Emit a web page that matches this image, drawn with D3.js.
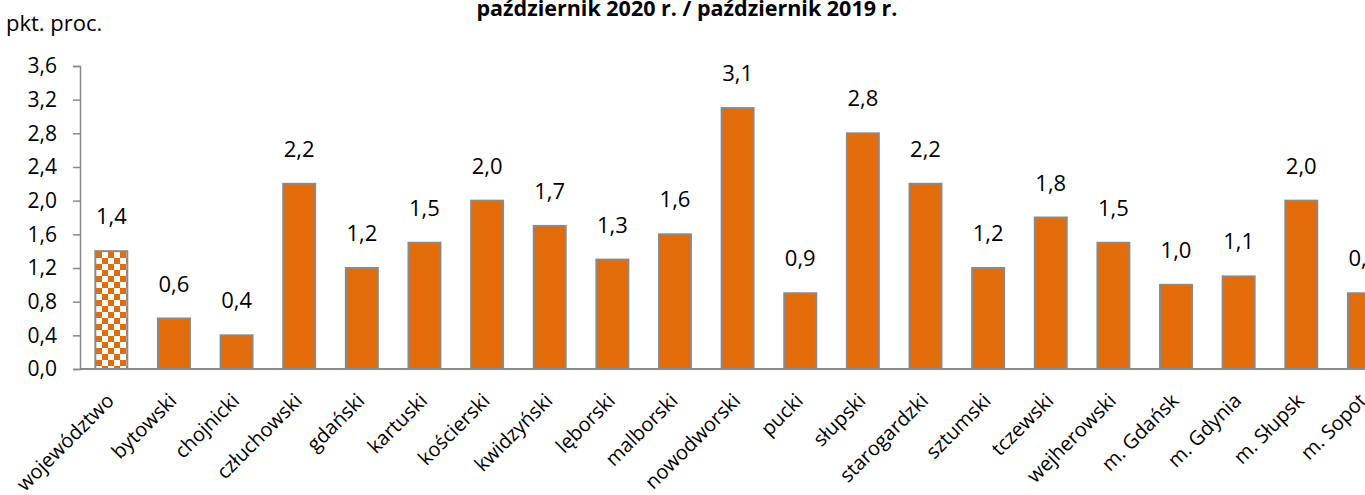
<!DOCTYPE html>
<html>
<head>
<meta charset="utf-8">
<script src="https://cdn.jsdelivr.net/npm/d3@7"></script>
<style>
  body { margin: 0; background: #fff; }
  svg { font-family: "Open Sans", "Noto Sans", sans-serif; }
  .axis path, .axis line { stroke: #898989; stroke-width: 1.5px; }
  .axis text { fill: #000; font-size: 21px; font-family: "Open Sans", sans-serif; }
</style>
</head>
<body>
<div id="chart"></div>
<script>
// data
var categories = ["województwo", "bytowski", "chojnicki", "człuchowski", "gdański", "kartuski",
  "kościerski", "kwidzyński", "lęborski", "malborski", "nowodworski", "pucki", "słupski",
  "starogardzki", "sztumski", "tczewski", "wejherowski", "m. Gdańsk", "m. Gdynia", "m. Słupsk", "m. Sopot"];
var values = [1.4, 0.6, 0.4, 2.2, 1.2, 1.5, 2.0, 1.7, 1.3, 1.6, 3.1, 0.9, 2.8, 2.2, 1.2, 1.8, 1.5, 1.0, 1.1, 2.0, 0.9];
var yTicks = [0, 0.4, 0.8, 1.2, 1.6, 2.0, 2.4, 2.8, 3.2, 3.6];

var svgWidth = 1365;
var svgHeight = 495;

var svg = d3.select("#chart")
  .append("svg")
  .attr("width", svgWidth)
  .attr("height", svgHeight);

// checkered fill for the voivodeship bar
var pat = svg.append("defs").append("pattern")
  .attr("id", "checks")
  .attr("patternUnits", "userSpaceOnUse")
  .attr("width", 12)
  .attr("height", 12);
pat.append("rect").attr("width", 12).attr("height", 12).attr("fill", "#fff");
pat.append("rect").attr("width", 6).attr("height", 6).attr("fill", "#E36C0A");
pat.append("rect").attr("x", 6).attr("y", 6).attr("width", 6).attr("height", 6).attr("fill", "#E36C0A");

// scales (the chart runs past the right edge, like the original)
var xScale = d3.scaleBand()
  .domain(categories)
  .range([80, 80 + categories.length * 62.63])
  .paddingInner(0.49)
  .paddingOuter(0.245);

var yScale = d3.scaleLinear()
  .domain([0, 3.6])
  .range([369, 66]);

var fmt = function(d) { return d3.format(".1f")(d).replace(".", ","); };

// y axis
svg.append("g")
  .attr("class", "axis")
  .attr("transform", "translate(80,0)")
  .call(d3.axisLeft(yScale).tickValues(yTicks).tickSize(7).tickSizeOuter(7).tickPadding(16).tickFormat(fmt));

// bars
svg.selectAll(".bar")
  .data(values)
  .enter()
  .append("rect")
  .attr("class", "bar")
  .attr("x", (d, i) => xScale(categories[i]))
  .attr("y", d => yScale(d))
  .attr("width", xScale.bandwidth())
  .attr("height", d => yScale(0) - yScale(d))
  .attr("fill", (d, i) => i === 0 ? "url(#checks)" : "#E36C0A")
  .attr("stroke", "#898989")
  .attr("stroke-width", 2);

// x axis line
svg.append("line")
  .attr("x1", 80).attr("x2", svgWidth)
  .attr("y1", yScale(0)).attr("y2", yScale(0))
  .attr("stroke", "#898989")
  .attr("stroke-width", 2);

// value labels
svg.selectAll(".val")
  .data(values)
  .enter()
  .append("text")
  .attr("class", "val")
  .attr("x", (d, i) => xScale(categories[i]) + xScale.bandwidth() / 2)
  .attr("y", d => yScale(d) - 27)
  .attr("text-anchor", "middle")
  .attr("font-size", "22px")
  .text(fmt);

// category labels, rotated
var catG = svg.selectAll(".cat")
  .data(categories)
  .enter()
  .append("g")
  .attr("class", "cat")
  .attr("transform", d => "translate(" + (xScale(d) + xScale.bandwidth() / 2 + 4) + ",402)");

catG.append("text")
  .attr("text-anchor", "end")
  .attr("font-size", "20px")
  .attr("transform", "rotate(-45)")
  .text(d => d);

// titles
svg.append("text")
  .attr("x", 6)
  .attr("y", 31)
  .attr("font-size", "22px")
  .text("pkt. proc.");

svg.append("text")
  .attr("x", 687)
  .attr("y", 16)
  .attr("text-anchor", "middle")
  .attr("font-size", "21.5px")
  .attr("font-weight", "bold")
  .text("październik 2020 r. / październik 2019 r.");
</script>
</body>
</html>
